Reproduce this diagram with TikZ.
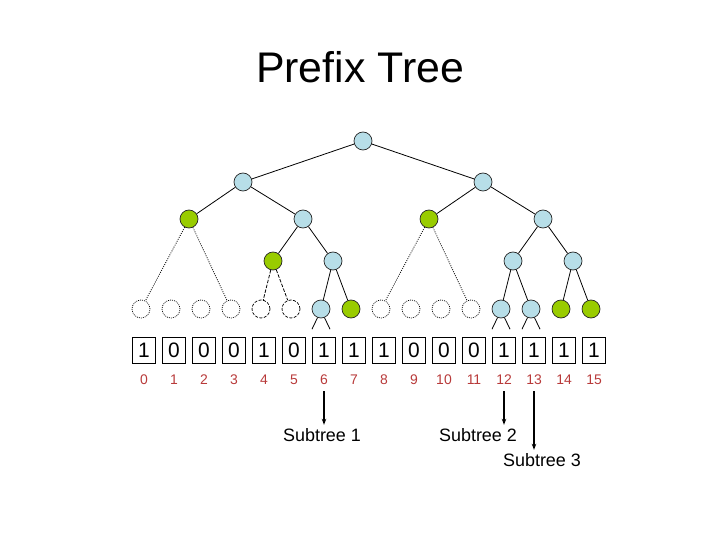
\documentclass[tikz,border=0pt]{standalone}
\usepackage{fontspec}
\setmainfont{Liberation Sans}
\usetikzlibrary{arrows.meta}
\definecolor{nodeblue}{HTML}{B7DEE8}
\definecolor{nodegreen}{HTML}{99CC00}
\definecolor{idxred}{HTML}{B83A3A}
\begin{document}
\begin{tikzpicture}[x=1bp,y=-1bp,
  tn/.style={circle, draw=black!85, line width=0.7bp, minimum size=18bp, inner sep=0},
  bluen/.style={tn, fill=nodeblue},
  greenn/.style={tn, fill=nodegreen},
  emptyn/.style={tn, draw=black, dash pattern=on 0.9bp off 1.1bp},
  dashn/.style={tn, draw=black, dash pattern=on 3bp off 1.5bp},
  edge/.style={line width=0.8bp},
  dotedge/.style={line width=0.8bp, dash pattern=on 0.9bp off 1.3bp},
  dashedge/.style={line width=0.8bp, dash pattern=on 3.5bp off 1.5bp},
  bitbox/.style={draw, line width=0.9bp, minimum width=23.5bp, minimum height=26bp, inner sep=0, font=\fontsize{21}{21}\selectfont},
  idx/.style={text=idxred, font=\fontsize{14}{14}\selectfont, inner sep=0},
  lbl/.style={font=\fontsize{18}{18}\selectfont, inner sep=0},
  arr/.style={line width=1.4bp, -{Stealth[length=6bp,width=4.5bp]}, shorten <=6bp, shorten >=3bp}
  ]
\useasboundingbox (0,0) rectangle (720,540);

% title
\node[anchor=base, inner sep=0, font=\fontsize{43}{43}\selectfont] (title) at (360,83) {Prefix Tree};

% internal nodes
\node[bluen] (r) at (363,141) {};
\node[bluen] (a) at (243,182) {};
\node[bluen] (b) at (483,182) {};
\node[greenn] (aa) at (189,219) {};
\node[bluen] (ab) at (303,219) {};
\node[greenn] (ba) at (429,219) {};
\node[bluen] (bb) at (543,219) {};
\node[greenn] (aba) at (273,261) {};
\node[bluen] (abb) at (333,261) {};
\node[bluen] (bba) at (513,261) {};
\node[bluen] (bbb) at (573,261) {};

% leaves
\foreach \i/\s in {0/emptyn,1/emptyn,2/emptyn,3/emptyn,4/dashn,5/dashn,6/bluen,7/greenn,8/emptyn,9/emptyn,10/emptyn,11/emptyn,12/bluen,13/bluen,14/greenn,15/greenn}
  \node[\s] (l\i) at (141+30*\i,309) {};

% bit boxes and indices
\foreach \i/\b in {0/1,1/0,2/0,3/0,4/1,5/0,6/1,7/1,8/1,9/0,10/0,11/0,12/1,13/1,14/1,15/1} {
  \node[bitbox] (x\i) at (144+30*\i,350) {\b};
  \node[idx] (n\i) at (144+30*\i,380) {\i};
}

% solid edges
\draw[edge] (r) -- (a);
\draw[edge] (r) -- (b);
\draw[edge] (a) -- (aa);
\draw[edge] (a) -- (ab);
\draw[edge] (b) -- (ba);
\draw[edge] (b) -- (bb);
\draw[edge] (ab) -- (aba);
\draw[edge] (ab) -- (abb);
\draw[edge] (bb) -- (bba);
\draw[edge] (bb) -- (bbb);
\draw[edge] (abb) -- (l6);
\draw[edge] (abb) -- (l7);
\draw[edge] (bba) -- (l12);
\draw[edge] (bba) -- (l13);
\draw[edge] (bbb) -- (l14);
\draw[edge] (bbb) -- (l15);

% dotted / dashed edges
\draw[dotedge] (aa) -- (l0);
\draw[dotedge] (aa) -- (l3);
\draw[dotedge] (ba) -- (l8);
\draw[dotedge] (ba) -- (l11);
\draw[dashedge] (aba) -- (l4);
\draw[dashedge] (aba) -- (l5);

% small V lines below subtree roots
\foreach \k in {6,12,13} {
  \draw[edge] (l\k.-112) -- ++(-5.5,11.5);
  \draw[edge] (l\k.-68) -- ++(5.5,11.5);
}

% subtree labels
\node[lbl, anchor=base] (s1) at (322,441) {Subtree 1};
\node[lbl, anchor=base] (s2) at (478,441) {Subtree 2};
\node[lbl, anchor=base] (s3) at (542,466) {Subtree 3};

\draw[arr] (n6.south) -- (n6.south |- s1.north);
\draw[arr] (n12.south) -- (n12.south |- s2.north);
\draw[arr] (n13.south) -- (n13.south |- s3.north);
\end{tikzpicture}
\end{document}
